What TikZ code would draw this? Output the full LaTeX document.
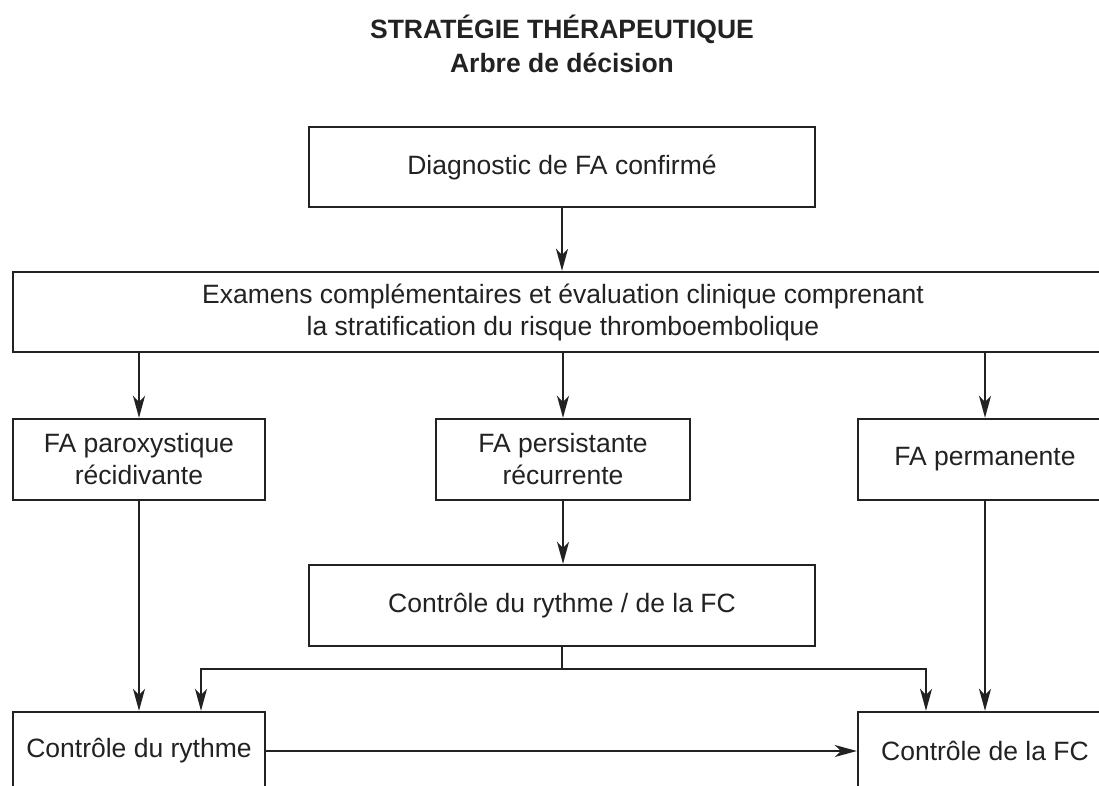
\documentclass[tikz,border=0pt]{standalone}
\usepackage{fontspec}
\setmainfont{Liberation Sans}
\usetikzlibrary{arrows.meta}
\definecolor{ink}{HTML}{222222}
\begin{document}
\begin{tikzpicture}[x=1pt,y=-1pt,
  box/.style={draw=ink, line width=2.4pt, align=center, text=ink, inner sep=0pt,
    font=\fontsize{26.5}{32}\selectfont},
  arr/.style={draw=ink, line width=1.8pt, -{Stealth[length=22pt,width=12pt,inset=6pt]}},
  ln/.style={draw=ink, line width=1.8pt},
  ttl/.style={align=center, text=ink, font=\fontsize{26.5}{34}\selectfont\bfseries}]
\useasboundingbox (0,0) rectangle (1099,785);
\clip (0,0) rectangle (1099,785);
\fill[white] (0,0) rectangle (1099,785);
\node[ttl] (title) at (562,44) {STRATÉGIE THÉRAPEUTIQUE\\Arbre de décision};
\node[box, minimum width=506pt, minimum height=80pt] (diag) at (562,167) {Diagnostic de FA confirmé};
\node[box, minimum width=1100pt, minimum height=80pt] (exam) at (563,312) {Examens complémentaires et évaluation clinique comprenant\\la stratification du risque thromboembolique};
\node[box, minimum width=252pt, minimum height=81pt] (parox) at (139,459.5) {FA paroxystique\\récidivante};
\node[box, minimum width=254pt, minimum height=81pt] (persist) at (563,459.5) {FA persistante\\récurrente};
\node[box, minimum width=254pt, minimum height=81pt] (perm) at (985,459.5) {FA permanente};
\node[box, minimum width=506pt, minimum height=81pt] (ctrl) at (562,605.5) {Contrôle du rythme / de la FC};
\node[box, minimum width=252pt, minimum height=78pt] (rythme) at (139,751) {Contrôle du rythme};
\node[box, minimum width=254pt, minimum height=78pt] (fc) at (985,751) {Contrôle de la FC};
\coordinate (jm) at (562,669);
\coordinate (jl) at (201,669);
\coordinate (jr) at (926,669);
\draw[arr] (diag.south) -- (diag.south |- exam.north);
\draw[arr] (parox.north |- exam.south) -- (parox.north);
\draw[arr] (persist.north |- exam.south) -- (persist.north);
\draw[arr] (perm.north |- exam.south) -- (perm.north);
\draw[arr] (persist.south) -- (persist.south |- ctrl.north);
\draw[arr] (parox.south) -- (rythme.north);
\draw[arr] (perm.south) -- (fc.north);
\draw[ln] (ctrl.south) -- (jm);
\draw[arr] (jm) -- (jl) -- (jl |- rythme.north);
\draw[arr] (jm) -- (jr) -- (jr |- fc.north);
\draw[arr] (rythme.east) -- (fc.west);
\end{tikzpicture}
\end{document}
